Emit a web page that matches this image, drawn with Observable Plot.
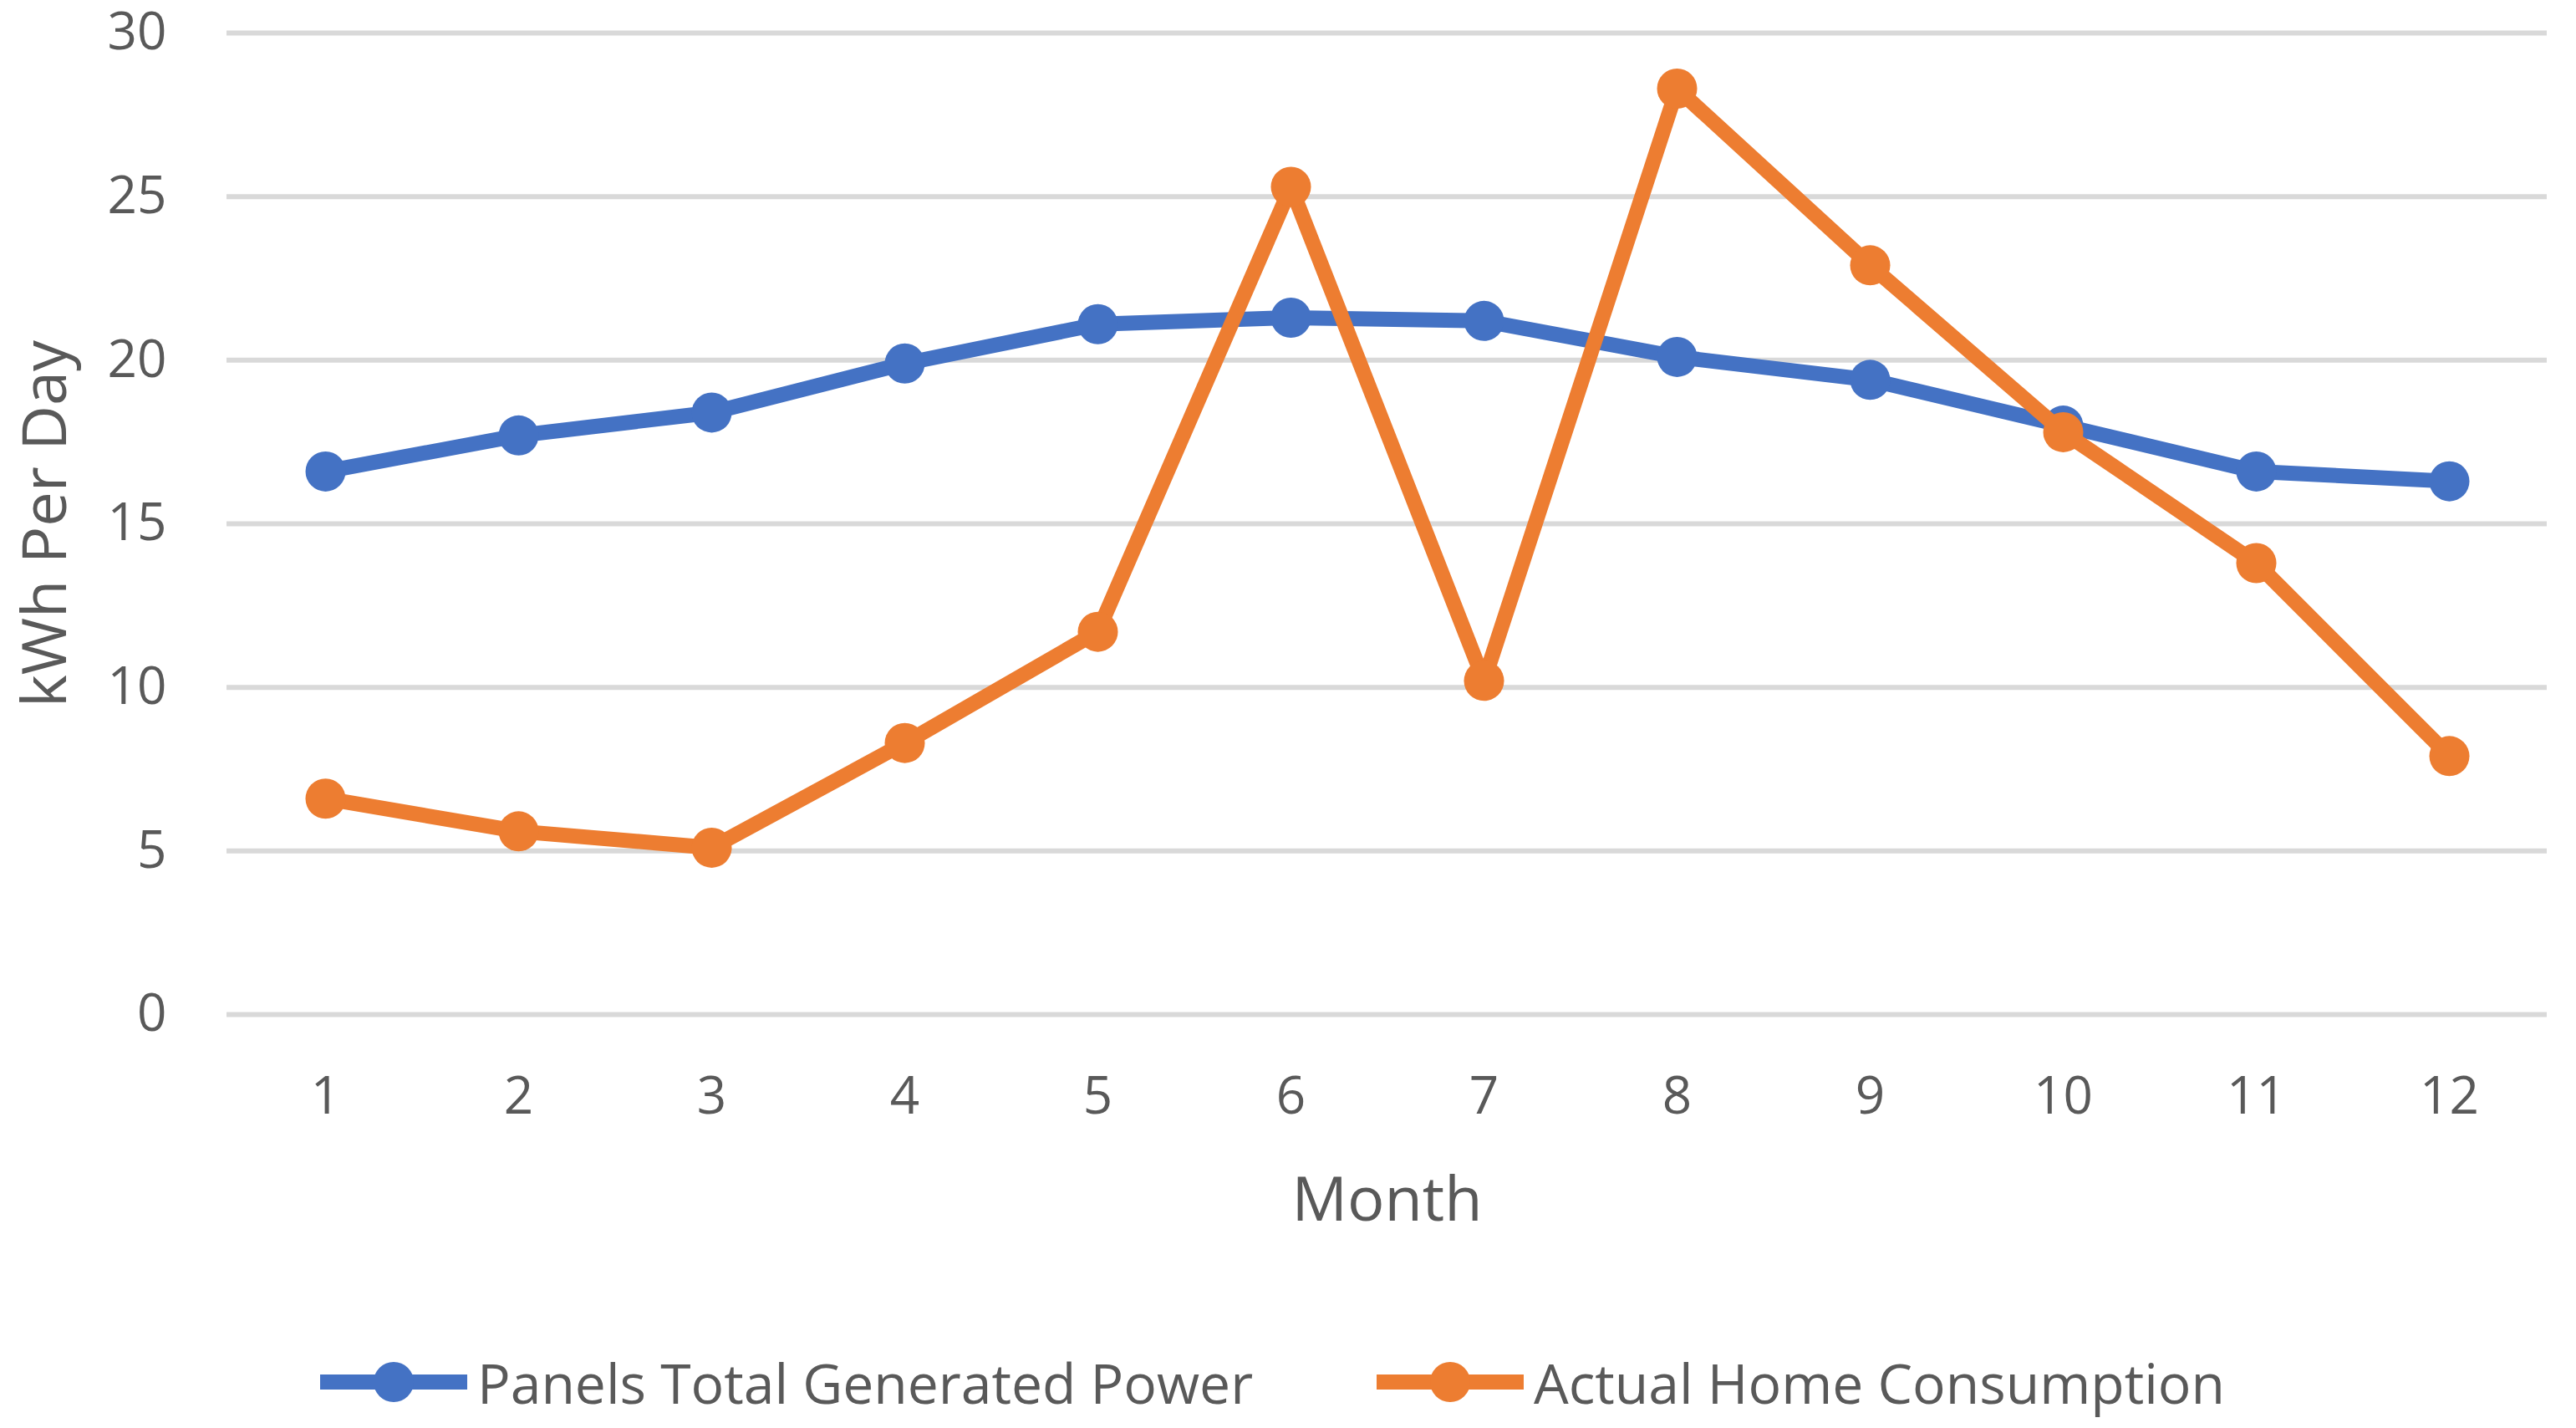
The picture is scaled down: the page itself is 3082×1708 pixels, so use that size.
<!DOCTYPE html>
<html>
<head>
<meta charset="utf-8">
<script src="https://cdn.jsdelivr.net/npm/d3@7"></script>
<script src="https://cdn.jsdelivr.net/npm/@observablehq/plot@0.6"></script>
<style>
  html, body { margin: 0; padding: 0; background: #fff; }
  #wrap { position: relative; width: 3082px; height: 1708px; overflow: hidden; }
  #legend { position: absolute; left: 0; top: 1540px; width: 3082px; height: 168px; font-family: "Open Sans", sans-serif; color: #595959; }
  .item { position: absolute; top: 113px; transform: translateY(-50%); display: flex; align-items: center; font-size: 66px; white-space: nowrap; }
  .item svg { display: block; margin-right: 12px; }
</style>
</head>
<body>
<div id="wrap">
  <div id="chart"></div>
  <div id="legend"></div>
</div>
<script>
const months = [1, 2, 3, 4, 5, 6, 7, 8, 9, 10, 11, 12];
const generated = [16.6, 17.7, 18.4, 19.9, 21.1, 21.3, 21.2, 20.1, 19.4, 18.0, 16.6, 16.3];
const consumption = [6.6, 5.6, 5.1, 8.3, 11.7, 25.3, 10.2, 28.3, 22.9, 17.8, 13.8, 7.9];
const yTicks = [0, 5, 10, 15, 20, 25, 30];
const seriesNames = ["Panels Total Generated Power", "Actual Home Consumption"];
const seriesColors = ["#4472C4", "#ED7D31"];

const genData = months.map((m, i) => ({month: m, value: generated[i]}));
const conData = months.map((m, i) => ({month: m, value: consumption[i]}));

const chart = Plot.plot({
  width: 3082,
  height: 1540,
  marginLeft: 271,
  marginRight: 35,
  marginTop: 39,
  marginBottom: 327,
  style: {fontFamily: "Open Sans, sans-serif", color: "#595959", background: "#fff"},
  x: {type: "point", domain: months, padding: 0.5, label: null},
  y: {domain: [0, 30], ticks: yTicks, label: null},
  marks: [
    Plot.gridY(yTicks, {stroke: "#D9D9D9", strokeOpacity: 1, strokeWidth: 6}),
    Plot.axisY(yTicks, {tickSize: 0, tickPadding: 72, fontSize: 62, fill: "#595959", label: null}),
    Plot.axisX(months, {tickSize: 0, tickPadding: 74, fontSize: 62, fill: "#595959", label: null}),
    Plot.text(["kWh Per Day"], {frameAnchor: "left", dx: -216, rotate: -90, textAnchor: "middle", fontSize: 74, fill: "#595959"}),
    Plot.text(["Month"], {frameAnchor: "bottom", dy: 246, textAnchor: "middle", fontSize: 74, fill: "#595959"}),
    Plot.line(genData, {x: "month", y: "value", stroke: seriesColors[0], strokeWidth: 18, strokeLinejoin: "round"}),
    Plot.dot(genData, {x: "month", y: "value", r: 24, fill: seriesColors[0], stroke: "none"}),
    Plot.line(conData, {x: "month", y: "value", stroke: seriesColors[1], strokeWidth: 18, strokeLinejoin: "round"}),
    Plot.dot(conData, {x: "month", y: "value", r: 24, fill: seriesColors[1], stroke: "none"})
  ]
});
document.getElementById("chart").appendChild(chart);

const legend = document.getElementById("legend");
const lefts = [383, 1647];
seriesNames.forEach((name, i) => {
  const item = document.createElement("div");
  item.className = "item";
  item.style.left = lefts[i] + "px";
  item.innerHTML = `<svg width="176" height="60"><line x1="0" y1="30" x2="176" y2="30" stroke="${seriesColors[i]}" stroke-width="18"/><circle cx="88" cy="30" r="24" fill="${seriesColors[i]}"/></svg><span>${name}</span>`;
  legend.appendChild(item);
});
</script>
</body>
</html>
